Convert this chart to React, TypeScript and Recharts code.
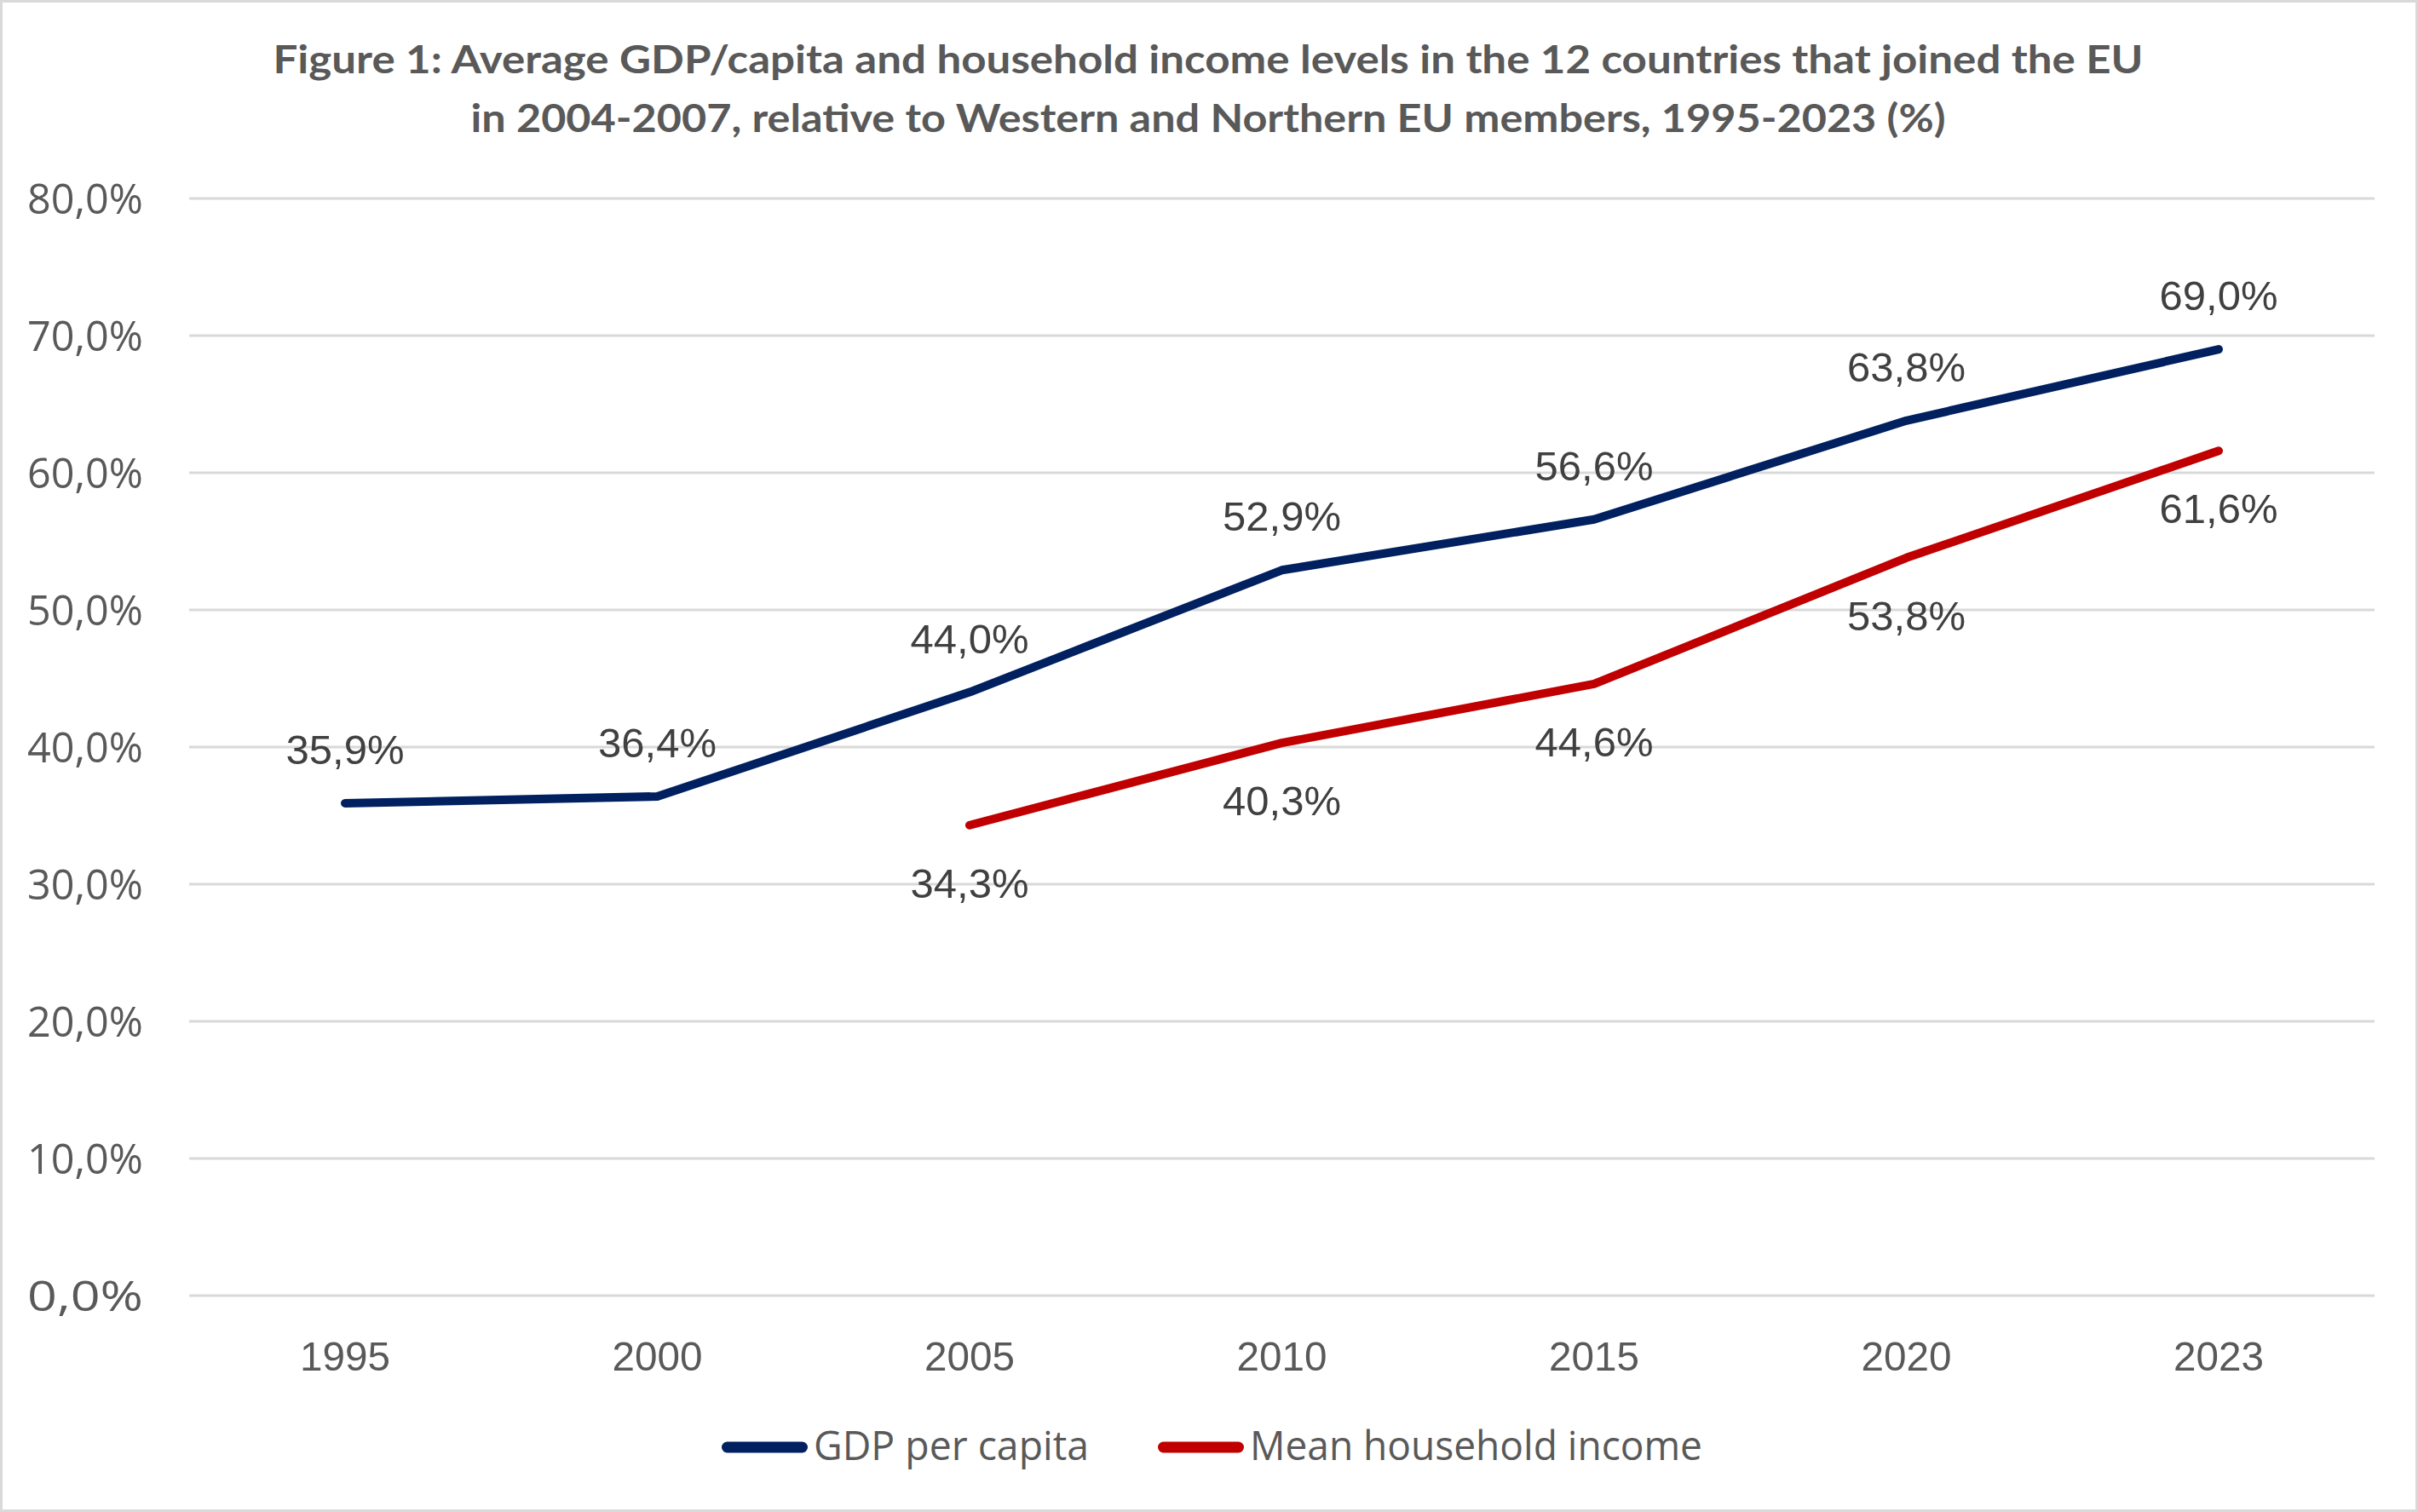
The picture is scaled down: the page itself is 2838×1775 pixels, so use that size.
import React from 'react';
import { LineChart, Line, XAxis, YAxis, CartesianGrid, LabelList, Legend } from 'recharts';

// ---- data ----
const years = ['1995', '2000', '2005', '2010', '2015', '2020', '2023'];
const gdpPerCapita = [35.9, 36.4, 44.0, 52.9, 56.6, 63.8, 69.0];
const meanHouseholdIncome: (number | null)[] = [null, null, 34.3, 40.3, 44.6, 53.8, 61.6];
const yTicks = [0, 10, 20, 30, 40, 50, 60, 70, 80];
const titleLines = [
  'Figure 1: Average GDP/capita and household income levels in the 12 countries that joined the EU',
  'in 2004-2007, relative to Western and Northern EU members, 1995-2023 (%)',
];
const seriesGdpName = 'GDP per capita';
const seriesIncomeName = 'Mean household income';

const data = years.map((year, i) => ({
  year,
  gdp: gdpPerCapita[i],
  income: meanHouseholdIncome[i],
}));

// ---- styling ----
const W = 2832;
const H = 1769;
const GDP_COLOR = '#002060';
const INCOME_COLOR = '#C00000';
const AXIS_TEXT = '#595959';
const LABEL_TEXT = '#404040';

const fmt = (v: number) => v.toFixed(1).replace('.', ',') + '%';

const YTick = (props: any) => {
  const { x, y, payload } = props;
  return (
    <text
      x={x}
      y={y}
      dy={18}
      textAnchor="end"
      fill={AXIS_TEXT}
      fontFamily="'Open Sans', sans-serif"
      fontSize={50}
      textLength={136}
      lengthAdjust="spacingAndGlyphs"
    >
      {fmt(payload.value)}
    </text>
  );
};

const XTick = (props: any) => {
  const { x, y, payload } = props;
  return (
    <text
      x={x}
      y={y}
      dy={88}
      textAnchor="middle"
      fill={AXIS_TEXT}
      fontFamily="'Liberation Sans', Arial, sans-serif"
      fontSize={49}
      textLength={106}
      lengthAdjust="spacingAndGlyphs"
    >
      {payload.value}
    </text>
  );
};

const makeLabel = (above: boolean) => (props: any) => {
  const { value, viewBox } = props;
  const x = props.x ?? viewBox?.x;
  const y = props.y ?? viewBox?.y;
  if (value === null || value === undefined || x == null || y == null) return null;
  return (
    <text
      x={x}
      y={above ? y - 46 : y + 85}
      textAnchor="middle"
      fill={LABEL_TEXT}
      fontFamily="'Liberation Sans', Arial, sans-serif"
      fontSize={49}
    >
      {fmt(Number(value))}
    </text>
  );
};

const legendTextWidths: Record<string, number> = {
  [seriesGdpName]: 323,
  [seriesIncomeName]: 531,
};

const LegendContent = (props: any) => {
  const { payload } = props;
  return (
    <div
      style={{
        display: 'flex',
        justifyContent: 'center',
        alignItems: 'center',
        height: 70,
        paddingLeft: 6,
      }}
    >
      {(payload || []).map((entry: any, i: number) => {
        const tw = legendTextWidths[entry.value] ?? 300;
        const iconW = 101;
        const gap = 7;
        return (
          <svg
            key={entry.value}
            width={iconW + gap + tw}
            height={70}
            style={{ marginLeft: i === 0 ? 0 : 81, overflow: 'visible' }}
          >
            <line
              x1={6.5}
              x2={iconW - 6.5}
              y1={36}
              y2={36}
              stroke={entry.color}
              strokeWidth={13}
              strokeLinecap="round"
            />
            <text
              x={iconW + gap}
              y={51}
              fill={AXIS_TEXT}
              fontFamily="'Open Sans', sans-serif"
              fontSize={47}
              textLength={tw}
              lengthAdjust="spacingAndGlyphs"
            >
              {entry.value}
            </text>
          </svg>
        );
      })}
    </div>
  );
};

export default function App() {
  return (
    <div>
      <style>{'body{margin:0;background:#fff;}'}</style>
      <div
        style={{
          position: 'relative',
          width: 2838,
          height: 1775,
          border: '3px solid #D9D9D9',
          boxSizing: 'border-box',
          background: '#fff',
        }}
      >
        <svg
          width={W}
          height={200}
          style={{ position: 'absolute', left: 0, top: 0, pointerEvents: 'none', zIndex: 2 }}
        >
          {titleLines.map((line, i) => (
            <text
              key={i}
              x={1415}
              y={i === 0 ? 83 : 152}
              textAnchor="middle"
              fill={AXIS_TEXT}
              fontFamily="Lato, sans-serif"
              fontWeight={700}
              fontSize={45}
              textLength={i === 0 ? 2195 : 1731}
              lengthAdjust="spacingAndGlyphs"
            >
              {line}
            </text>
          ))}
        </svg>
        <LineChart
          width={W}
          height={H}
          data={data}
          margin={{ top: 230, right: 48, left: 0, bottom: 0 }}
        >
          <CartesianGrid vertical={false} stroke="#D9D9D9" strokeWidth={3} />
          <XAxis
            dataKey="year"
            interval={0}
            axisLine={false}
            tickLine={false}
            tickSize={0}
            tickMargin={0}
            height={251}
            padding={{ left: 183, right: 183 }}
            tick={<XTick />}
          />
          <YAxis
            domain={[0, 80]}
            ticks={yTicks}
            axisLine={false}
            tickLine={false}
            tickSize={0}
            tickMargin={54}
            width={219}
            tick={<YTick />}
          />
          <Legend
            verticalAlign="middle"
            align="center"
            layout="horizontal"
            wrapperStyle={{ top: 1660, left: 0, width: W }}
            content={<LegendContent />}
          />
          <Line
            type="linear"
            dataKey="gdp"
            name={seriesGdpName}
            stroke={GDP_COLOR}
            strokeWidth={10}
            strokeLinecap="round"
            strokeLinejoin="round"
            dot={false}
            activeDot={false}
            isAnimationActive={false}
          >
            <LabelList dataKey="gdp" content={makeLabel(true)} />
          </Line>
          <Line
            type="linear"
            dataKey="income"
            name={seriesIncomeName}
            stroke={INCOME_COLOR}
            strokeWidth={10}
            strokeLinecap="round"
            strokeLinejoin="round"
            dot={false}
            activeDot={false}
            isAnimationActive={false}
          >
            <LabelList dataKey="income" content={makeLabel(false)} />
          </Line>
        </LineChart>
      </div>
    </div>
  );
}
